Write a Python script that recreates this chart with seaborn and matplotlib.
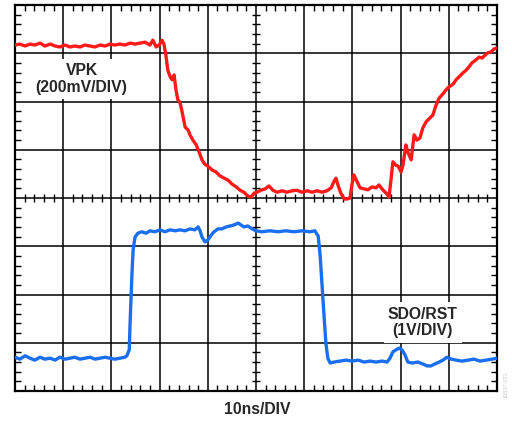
"""
示波器截图复现: VPK 与 SDO/RST 波形 (10ns/DIV)
横轴单位 ns, 纵轴单位为屏幕格 (0-8 DIV)
"""

import numpy as np
import matplotlib
matplotlib.use("Agg")
import matplotlib.pyplot as plt
from matplotlib.ticker import MultipleLocator
import seaborn as sns

sns.set_theme(style="white")
plt.rcParams["font.family"] = ["Liberation Sans", "DejaVu Sans"]

# ---------------- 数据 ----------------
# VPK 波形 (红), 时间 ns, 纵向 DIV
vpk_t = [0.0, 1.0, 2.1, 3.1, 4.1, 5.2, 6.2, 7.3, 8.3, 9.3, 10.4, 11.4, 12.4, 13.5,
         14.5, 15.6, 16.6, 17.6, 18.7, 19.7, 20.7, 21.8, 22.8, 23.9, 24.9, 25.9,
         27.0, 28.0, 28.6, 29.3, 29.9, 30.5, 30.9, 31.3, 31.7, 32.2, 32.6, 33.0,
         33.4, 33.8, 34.2, 34.6, 35.3, 35.9, 36.3, 36.9, 37.6, 38.2, 38.8, 39.4,
         40.0, 40.9, 41.7, 42.5, 43.4, 44.2, 45.0, 45.9, 46.7, 47.5, 48.3, 49.0,
         49.6, 50.2, 51.0, 51.9, 52.7, 53.5, 54.4, 55.4, 56.4, 57.5, 58.5, 59.5,
         60.6, 61.6, 62.7, 63.7, 64.7, 65.6, 66.2, 66.6, 67.0, 67.6, 68.3, 68.9,
         69.5, 69.9, 70.3, 71.0, 71.6, 72.4, 73.2, 74.1, 74.9, 75.5, 76.3, 77.2,
         77.6, 78.0, 78.4, 79.0, 79.5, 80.1, 80.5, 81.1, 81.5, 82.2, 82.8, 83.4,
         84.0, 84.6, 85.3, 86.1, 86.7, 87.3, 88.0, 88.8, 89.4, 90.0, 90.9, 91.5,
         92.1, 92.9, 93.6, 94.2, 94.8, 95.6, 96.3, 96.9, 97.5, 98.1, 98.8, 99.4,
         100.0]
vpk_v = [7.17, 7.19, 7.15, 7.19, 7.17, 7.21, 7.15, 7.19, 7.15, 7.13, 7.17, 7.13,
         7.15, 7.13, 7.17, 7.15, 7.13, 7.17, 7.15, 7.19, 7.17, 7.19, 7.17, 7.21,
         7.19, 7.21, 7.23, 7.17, 7.27, 7.13, 7.17, 7.27, 7.19, 6.96, 6.65, 6.51,
         6.45, 6.55, 6.24, 6.03, 5.99, 5.82, 5.47, 5.41, 5.31, 5.20, 5.10, 4.95,
         4.79, 4.70, 4.66, 4.58, 4.54, 4.46, 4.41, 4.37, 4.29, 4.23, 4.16, 4.12,
         4.04, 4.02, 4.10, 4.12, 4.16, 4.19, 4.25, 4.16, 4.12, 4.15, 4.12, 4.15,
         4.16, 4.12, 4.15, 4.12, 4.15, 4.12, 4.15, 4.21, 4.35, 4.41, 4.27, 4.10,
         3.98, 3.98, 4.00, 4.27, 4.48, 4.33, 4.21, 4.19, 4.17, 4.23, 4.21, 4.27,
         4.17, 4.08, 4.02, 4.37, 4.75, 4.68, 4.66, 4.54, 4.68, 5.10, 4.95, 4.79,
         5.31, 5.20, 5.24, 5.45, 5.58, 5.66, 5.72, 5.91, 6.07, 6.16, 6.24, 6.30,
         6.36, 6.45, 6.51, 6.59, 6.65, 6.72, 6.80, 6.86, 6.92, 6.90, 6.96, 7.01,
         7.03, 7.09, 7.11]

# SDO/RST 波形 (蓝)
sdo_t = [0.0, 1.0, 2.1, 3.1, 4.1, 5.2, 6.2, 7.3, 8.3, 9.3, 10.4, 11.4, 12.4, 13.5,
         14.5, 15.6, 16.6, 17.6, 18.7, 19.7, 20.7, 21.8, 22.8, 23.2, 23.7, 23.9,
         24.1, 24.3, 24.5, 24.9, 25.5, 26.3, 27.2, 28.0, 29.0, 30.1, 31.1, 32.2,
         33.2, 34.2, 35.3, 36.3, 37.3, 38.0, 38.4, 38.8, 39.4, 40.0, 40.7, 41.3,
         42.1, 42.9, 43.8, 44.6, 45.4, 46.3, 46.9, 47.5, 48.3, 49.2, 50.0, 51.2,
         52.9, 54.6, 56.2, 57.9, 59.5, 61.2, 62.2, 62.9, 63.3, 63.7, 64.1, 64.5,
         64.9, 65.4, 66.2, 67.4, 68.7, 69.9, 71.2, 72.4, 73.7, 74.9, 76.1, 77.2,
         77.8, 78.4, 79.0, 79.7, 80.3, 80.9, 81.5, 82.4, 83.6, 84.6, 85.5, 86.3,
         87.1, 88.0, 88.8, 89.6, 90.5, 91.5, 92.7, 94.0, 95.2, 96.5, 97.7, 99.0,
         100.0]
sdo_v = [0.70, 0.66, 0.73, 0.68, 0.64, 0.70, 0.66, 0.68, 0.64, 0.70, 0.66, 0.68,
         0.70, 0.66, 0.68, 0.70, 0.66, 0.68, 0.70, 0.68, 0.66, 0.68, 0.70, 0.73,
         0.85, 1.47, 1.99, 2.51, 2.92, 3.19, 3.27, 3.30, 3.27, 3.32, 3.30, 3.34,
         3.30, 3.34, 3.32, 3.34, 3.32, 3.36, 3.34, 3.40, 3.32, 3.19, 3.09, 3.13,
         3.23, 3.30, 3.36, 3.36, 3.40, 3.42, 3.44, 3.48, 3.44, 3.40, 3.42, 3.36,
         3.32, 3.30, 3.32, 3.30, 3.32, 3.30, 3.32, 3.30, 3.32, 3.21, 2.82, 2.20,
         1.58, 0.99, 0.68, 0.58, 0.60, 0.62, 0.64, 0.62, 0.64, 0.60, 0.62, 0.60,
         0.62, 0.60, 0.68, 0.81, 0.85, 0.89, 0.85, 0.75, 0.60, 0.58, 0.60, 0.56,
         0.52, 0.52, 0.56, 0.60, 0.64, 0.70, 0.66, 0.64, 0.62, 0.64, 0.66, 0.62,
         0.64, 0.66, 0.68]

RED = "#ff1a1a"
BLUE = "#1a6ef0"

# ---------------- 画图 ----------------
fig = plt.figure(figsize=(5.12, 4.21), dpi=100)
ax = fig.add_axes([15 / 512, 30 / 421, 482 / 512, 386 / 421])

sns.lineplot(x=vpk_t, y=vpk_v, color=RED, linewidth=2.4, estimator=None,
             ax=ax, zorder=5)
sns.lineplot(x=sdo_t, y=sdo_v, color=BLUE, linewidth=2.4, estimator=None,
             ax=ax, zorder=5)

ax.set_xlim(0, 100)
ax.set_ylim(0, 8)

# 格线: 10 x 8 格
ax.set_xticks(np.arange(0, 101, 10))
ax.set_yticks(np.arange(0, 9, 1))
ax.grid(True, color="black", linewidth=1.1)
ax.set_axisbelow(True)
ax.xaxis.set_minor_locator(MultipleLocator(2))
ax.yaxis.set_minor_locator(MultipleLocator(0.2))
ax.tick_params(which="major", length=0, labelbottom=False, labelleft=False)
ax.tick_params(which="minor", direction="in", length=4, width=1, color="black",
               top=True, right=True, bottom=True, left=True)
for s in ax.spines.values():
    s.set_color("black")
    s.set_linewidth(1.6)

# 中心十字线上的小刻度
xm = [v for v in np.arange(2, 100, 2) if v % 10 != 0]
ym = [v for v in np.arange(0.2, 8, 0.2) if abs(v - round(v)) > 1e-6]
ax.scatter(xm, [4] * len(xm), marker="|", s=30, color="black", linewidths=1, zorder=3)
ax.scatter([50] * len(ym), ym, marker="_", s=30, color="black", linewidths=1, zorder=3)

ax.set_xlabel("")
ax.set_ylabel("")

# 标签
box = dict(facecolor="white", edgecolor="none", pad=3)
ax.text(13.8, 6.47, "VPK\n(200mV/DIV)", ha="center", va="center", fontsize=11.3,
        fontweight="bold", linespacing=1.15, bbox=box, zorder=4)
ax.text(84.6, 1.42, "SDO/RST\n(1V/DIV)", ha="center", va="center", fontsize=11.3,
        fontweight="bold", linespacing=1.15, bbox=box, zorder=4)
fig.text(257 / 512, 1 - 409 / 421, "10ns/DIV", ha="center", va="center",
         fontsize=11.3, fontweight="bold")
fig.text(506 / 512, 1 - 385 / 421, "10637-021", rotation=90, ha="center",
         va="center", fontsize=4, color="#c8c8c8")

fig.savefig("out.png", dpi=100)
